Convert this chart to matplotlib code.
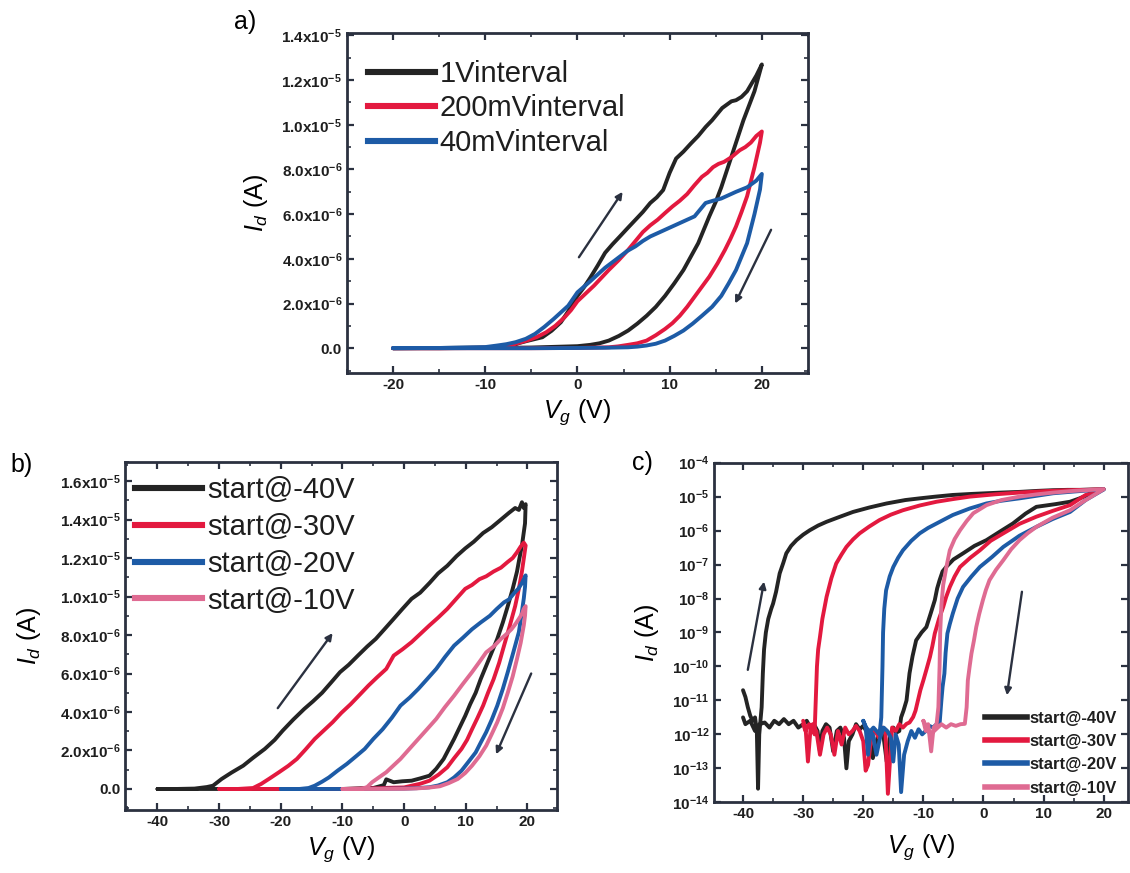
import matplotlib
matplotlib.use("Agg")
import matplotlib.pyplot as plt
from matplotlib.lines import Line2D
from matplotlib.ticker import MultipleLocator, FuncFormatter, FixedLocator, NullLocator
import numpy as np

plt.rcParams['font.family'] = ['Liberation Sans', 'DejaVu Sans']
plt.rcParams['mathtext.fontset'] = 'custom'
plt.rcParams['mathtext.rm'] = 'Liberation Sans'
plt.rcParams['mathtext.it'] = 'Liberation Sans:italic'
plt.rcParams['mathtext.bf'] = 'Liberation Sans:bold'
plt.rcParams['axes.unicode_minus'] = False

# ---------------- data: (Vg [V], Id [uA]) for panels a and b ----------------
a_labels = ['1Vinterval', '200mVinterval', '40mVinterval']

a_1v = [(-20, 0.0), (-15, 0.01), (-10, 0.03), (-8, 0.08), (-6.7, 0.19), (-5.5, 0.32), (-3.8, 0.49),
        (-2.8, 0.78), (-1.8, 1.16), (-1.0, 1.65), (0, 2.34), (0.7, 2.72), (1.4, 3.16), (2.2, 3.7),
        (3.0, 4.27), (3.8, 4.65), (4.6, 5.0), (5.5, 5.4), (6.3, 5.75), (7.1, 6.1), (7.9, 6.5),
        (8.6, 6.75), (9.3, 7.08), (10.0, 7.85), (10.7, 8.49), (11.5, 8.8), (12.3, 9.16), (13.1, 9.5),
        (13.9, 9.9), (14.6, 10.2), (15.2, 10.5), (15.7, 10.75), (16.2, 10.9), (16.7, 11.05),
        (17.2, 11.1), (17.8, 11.25), (18.4, 11.5), (18.9, 11.85), (19.4, 12.2), (20.0, 12.7),
        (19.6, 12.1), (19.2, 11.5), (18.6, 10.85), (18.0, 10.2), (17.4, 9.45), (16.8, 8.7),
        (16.2, 7.95), (15.6, 7.2), (15.0, 6.55), (14.3, 5.9), (13.7, 5.3), (13.1, 4.7), (12.3, 4.1),
        (11.5, 3.5), (10.5, 2.9), (9.5, 2.34), (8.5, 1.85), (7.5, 1.45), (6.5, 1.1), (5.5, 0.79),
        (4.5, 0.55), (3.4, 0.34), (2.4, 0.22), (1.4, 0.15), (0, 0.09), (-5, 0.03), (-10, 0.01),
        (-15, 0.0), (-20, 0.0)]

a_200mv = [(-20, 0.0), (-15, 0.0), (-10, 0.02), (-7.5, 0.1), (-5.5, 0.34), (-4.4, 0.5), (-3.4, 0.71),
           (-2.4, 1.0), (-1.4, 1.38), (-0.7, 1.7), (0, 2.1), (0.9, 2.45), (1.8, 2.8), (2.6, 3.15),
           (3.4, 3.5), (4.5, 3.95), (5.5, 4.4), (6.3, 4.8), (7.1, 5.2), (7.9, 5.5), (8.7, 5.75),
           (9.5, 6.05), (10.3, 6.34), (11.1, 6.6), (11.9, 6.9), (12.7, 7.3), (13.5, 7.67), (14.1, 7.85),
           (14.7, 8.1), (15.3, 8.25), (15.9, 8.34), (16.7, 8.55), (17.6, 8.86), (18.2, 9.0),
           (18.8, 9.2), (19.4, 9.5), (20.0, 9.7),
           (19.8, 9.2), (19.5, 8.65), (19.2, 8.1), (18.8, 7.45), (18.4, 6.8), (17.8, 6.1), (17.2, 5.45),
           (16.6, 4.9), (16.0, 4.4), (15.2, 3.8), (14.3, 3.2), (13.5, 2.75), (12.7, 2.3), (11.9, 1.85),
           (11.1, 1.45), (10.3, 1.12), (9.5, 0.86), (8.5, 0.58), (7.5, 0.34), (6.5, 0.22), (5.5, 0.15),
           (4.4, 0.08), (3.4, 0.04), (0, 0.01), (-5, 0.0), (-10, 0.0), (-15, 0.0), (-20, 0.0)]

a_40mv = [(-20, 0.0), (-15, 0.01), (-10, 0.05), (-8.7, 0.12), (-7.7, 0.18), (-6.7, 0.27), (-5.6, 0.42),
          (-4.6, 0.64), (-3.6, 0.95), (-2.6, 1.3), (-1.8, 1.6), (-1.0, 1.9), (-0.5, 2.2), (0, 2.5),
          (0.7, 2.75), (1.4, 3.0), (2.2, 3.3), (3.0, 3.6), (3.8, 3.85), (4.6, 4.1), (5.4, 4.35),
          (6.3, 4.56), (7.1, 4.8), (7.9, 5.0), (8.7, 5.15), (9.5, 5.3), (10.3, 5.45), (11.1, 5.6),
          (11.9, 5.75), (12.7, 5.9), (13.3, 6.2), (13.9, 6.5), (14.7, 6.6), (15.6, 6.7), (16.4, 6.85),
          (17.2, 7.0), (17.8, 7.1), (18.4, 7.2), (18.9, 7.35), (19.4, 7.5), (20.0, 7.8),
          (19.8, 7.1), (19.5, 6.55), (19.2, 6.0), (18.8, 5.35), (18.4, 4.7), (17.8, 4.1), (17.2, 3.5),
          (16.4, 2.9), (15.6, 2.34), (14.6, 1.85), (13.5, 1.45), (12.5, 1.1), (11.5, 0.79),
          (10.5, 0.55), (9.5, 0.34), (8.5, 0.2), (7.5, 0.12), (6.5, 0.07), (5.5, 0.04), (3, 0.02),
          (0, 0.01), (-5, 0.0), (-10, 0.0), (-15, 0.0), (-20, 0.0)]

start_labels = ['start@-40V', 'start@-30V', 'start@-20V', 'start@-10V']

b_m40 = [(-40, 0.0), (-37, 0.0), (-34, 0.02), (-32, 0.1), (-31, 0.17), (-29.6, 0.52), (-28, 0.85),
         (-26.1, 1.21), (-24.5, 1.62), (-22.6, 2.08), (-21, 2.55), (-19.7, 3.03), (-18, 3.6),
         (-16.2, 4.16), (-14.8, 4.55), (-13.3, 5.0), (-11.8, 5.55), (-10.4, 6.07), (-9, 6.45),
         (-7.5, 6.93), (-6, 7.4), (-4.6, 7.8), (-3.2, 8.3), (-1.7, 8.84), (-0.3, 9.35), (1.2, 9.88),
         (2.6, 10.2), (4.1, 10.7), (5.5, 11.2), (7.0, 11.6), (8.5, 12.1), (9.9, 12.5), (11.3, 12.85),
         (12.8, 13.3), (14.2, 13.6), (15.7, 14.0), (17, 14.35), (18, 14.6), (18.6, 14.5), (19.1, 14.9),
         (19.4, 14.6), (19.7, 14.8),
         (19.6, 13.8), (19.1, 12.65), (18.7, 12.0), (18.3, 11.3), (17.6, 10.4), (16.8, 9.5),
         (16, 8.65), (15.1, 7.8), (14.2, 7.1), (13.3, 6.4), (12.4, 5.7), (11.6, 5.0), (10.7, 4.4),
         (9.9, 3.8), (9.0, 3.2), (8.1, 2.6), (7.2, 2.05), (6.4, 1.56), (5.2, 1.05), (4.1, 0.69),
         (2.6, 0.55), (1.2, 0.43), (-0.3, 0.4), (-1.7, 0.35), (-2.9, 0.5), (-3.3, 0.2), (-5, 0.05),
         (-10, 0.0), (-20, 0.0), (-30, 0.0), (-40, 0.0)]

b_m30 = [(-30, 0.0), (-27, 0.0), (-24.5, 0.05), (-23.2, 0.26), (-21.8, 0.55), (-20.3, 0.87),
         (-18.8, 1.2), (-17.4, 1.56), (-16, 2.05), (-14.5, 2.6), (-13, 3.05), (-11.6, 3.47),
         (-10.2, 3.95), (-8.7, 4.4), (-7.2, 4.9), (-5.8, 5.37), (-4.4, 5.8), (-2.9, 6.24),
         (-1.7, 6.93), (-0.3, 7.25), (1.2, 7.63), (2.6, 8.05), (4.1, 8.5), (5.5, 8.9), (7.0, 9.36),
         (8.5, 9.9), (9.9, 10.4), (11, 10.6), (12.2, 10.9), (13.3, 11.05), (14.5, 11.3), (15.7, 11.5),
         (16.8, 11.8), (17.6, 12.0), (18.3, 12.3), (18.9, 12.6), (19.4, 12.8), (19.7, 12.65),
         (19.5, 12.2), (19.1, 11.3), (18.6, 10.4), (18.0, 9.5), (17.1, 8.45), (16.2, 7.45),
         (15.4, 6.55), (14.5, 5.7), (13.6, 5.0), (12.8, 4.33), (11.9, 3.7), (11.0, 3.1), (10.2, 2.55),
         (9.3, 2.08), (8.1, 1.6), (7.0, 1.13), (5.6, 0.75), (4.1, 0.43), (2.6, 0.27), (1.2, 0.17),
         (0, 0.08), (-10, 0.0), (-20, 0.0), (-30, 0.0)]

b_m20 = [(-20, 0.0), (-17, 0.0), (-15.5, 0.05), (-14.5, 0.17), (-13.3, 0.38), (-12.2, 0.6),
         (-10.8, 0.95), (-9.3, 1.3), (-7.8, 1.7), (-6.4, 2.08), (-5, 2.6), (-3.5, 3.1), (-2, 3.7),
         (-0.6, 4.33), (0.9, 4.75), (2.3, 5.2), (3.7, 5.7), (5.2, 6.24), (6.6, 6.85), (8.1, 7.45),
         (9.5, 7.85), (11, 8.3), (12.4, 8.65), (13.9, 9.0), (15, 9.35), (16.2, 9.7), (17, 9.85),
         (17.9, 10.2), (18.5, 10.4), (19.1, 10.7), (19.7, 11.1),
         (19.6, 10.5), (19.4, 9.9), (19.0, 9.0), (18.6, 8.15), (17.7, 7.1), (16.8, 6.07), (16.0, 5.2),
         (15.1, 4.33), (14.2, 3.6), (13.3, 2.95), (12.4, 2.4), (11.6, 1.9), (10.4, 1.4), (9.3, 0.95),
         (8.1, 0.6), (7.0, 0.35), (5.5, 0.18), (4.1, 0.09), (2, 0.04), (0, 0.02), (-10, 0.0),
         (-20, 0.0)]

b_m10 = [(-10, 0.0), (-7, 0.0), (-6, 0.1), (-5.2, 0.35), (-4.1, 0.6), (-2.9, 0.87), (-1.8, 1.2),
         (-0.6, 1.56), (0.9, 2.1), (2.3, 2.6), (3.7, 3.1), (5.2, 3.64), (6.6, 4.25), (8.1, 4.85),
         (9.5, 5.45), (11, 6.07), (12.2, 6.6), (13.3, 7.1), (14.5, 7.4), (15.7, 7.8), (16.6, 8.05),
         (17.4, 8.3), (18, 8.55), (18.6, 8.84), (19.1, 9.1), (19.4, 9.36), (19.7, 9.5),
         (19.6, 9.0), (19.4, 8.5), (18.9, 7.6), (18.3, 6.76), (17.6, 5.85), (16.8, 5.0), (16.0, 4.2),
         (15.1, 3.47), (14.2, 2.85), (13.3, 2.25), (12.2, 1.7), (11.0, 1.21), (9.9, 0.83), (8.7, 0.52),
         (7.2, 0.3), (5.8, 0.14), (4, 0.07), (2, 0.03), (0, 0.01), (-5, 0.0), (-10, 0.0)]

# ---------------- data: (Vg [V], log10 Id [A]) for panel c ----------------
c_m40 = [(-40, -10.7), (-39.6, -10.9), (-39.2, -11.2), (-38.8, -11.45), (-38.4, -11.6), (-38.0, -11.5),
         (-37.7, -11.9), (-37.5, -13.6), (-37.3, -12.0), (-37.1, -11.6), (-36.9, -11.2), (-36.7, -10.2),
         (-36.5, -9.5), (-36.2, -9.0), (-35.8, -8.6), (-35.3, -8.3), (-35.0, -8.15), (-34.5, -7.8),
         (-33.9, -7.26), (-33.3, -6.95), (-32.8, -6.67), (-32, -6.45), (-31.1, -6.28), (-30, -6.12),
         (-28.9, -5.99), (-27.5, -5.85), (-26.1, -5.74), (-24, -5.6), (-21.7, -5.45), (-19, -5.32),
         (-16.1, -5.2), (-13, -5.1), (-10.6, -5.05), (-8, -5.0), (-5.1, -4.95), (-2, -4.92),
         (0.5, -4.9), (3, -4.88), (6, -4.86), (9, -4.83), (11.6, -4.81), (14, -4.8), (16, -4.8),
         (18, -4.79), (20, -4.78),
         (18, -4.9), (16, -5.05), (14.4, -5.15), (12, -5.22), (10, -5.27), (8.8, -5.3), (7, -5.5),
         (4.9, -5.79), (3, -6.0), (0.5, -6.28), (-1.5, -6.45), (-3.4, -6.67), (-5, -6.85),
         (-6.2, -7.07), (-6.8, -7.2), (-7.3, -7.46), (-7.7, -7.7), (-8.1, -8.05), (-8.8, -8.45),
         (-9.5, -8.84), (-10.3, -9.0), (-11.2, -9.23), (-11.8, -9.7), (-12.3, -10.2), (-12.8, -11.0),
         (-13.3, -11.3), (-13.7, -11.5), (-14.0, -11.9), (-14.5, -11.95), (-15, -11.8), (-15.5, -12.0),
         (-16.1, -12.8), (-16.6, -12.1), (-17, -11.85), (-17.5, -12.0), (-18.4, -12.7), (-19, -12.0),
         (-19.5, -11.9), (-20, -11.75), (-20.6, -11.85), (-21.2, -11.7), (-21.8, -12.0), (-22.4, -12.2),
         (-22.8, -13.0), (-23.2, -12.1), (-23.8, -11.8), (-24.4, -11.9), (-25, -12.5), (-25.6, -11.8),
         (-26.2, -11.7), (-26.8, -11.9), (-27.2, -12.5), (-27.6, -11.9), (-28.2, -11.7), (-28.8, -11.8),
         (-29.4, -11.6), (-30, -11.7), (-30.8, -11.8), (-31.6, -11.6), (-32.4, -11.7), (-33.2, -11.55),
         (-34, -11.7), (-34.8, -11.6), (-35.6, -11.8), (-36.4, -11.65), (-37.2, -11.7), (-38, -11.9),
         (-38.8, -11.6), (-39.6, -11.7), (-40, -11.5)]

c_m30 = [(-30, -11.6), (-29.6, -11.8), (-29.2, -12.8), (-28.8, -11.9), (-28.4, -11.7), (-28.1, -12.0),
         (-27.9, -11.0), (-27.7, -10.0), (-27.5, -9.5), (-27.2, -9.13), (-26.8, -8.6), (-26.1, -7.95),
         (-25.3, -7.4), (-24.5, -6.97), (-23.6, -6.7), (-22.8, -6.48), (-21.7, -6.26), (-20.6, -6.08),
         (-19, -5.88), (-17.3, -5.69), (-15.4, -5.53), (-13.4, -5.4), (-10.6, -5.26), (-7.8, -5.15),
         (-5, -5.07), (-2.3, -5.0), (2, -4.93), (6, -4.88), (10, -4.84), (14, -4.81), (17, -4.8),
         (20, -4.78),
         (17, -4.95), (14.4, -5.25), (11.5, -5.42), (8.8, -5.59), (6, -5.8), (3.3, -6.08), (1.2, -6.3),
         (-0.6, -6.58), (-2.2, -6.8), (-3.9, -7.07), (-4.8, -7.35), (-5.6, -7.66), (-6.2, -7.95),
         (-6.7, -8.25), (-7.4, -8.6), (-8.1, -9.03), (-8.5, -9.4), (-8.9, -9.72), (-9.5, -10.1),
         (-10.0, -10.41), (-10.5, -10.7), (-10.9, -11.0), (-11.3, -11.3), (-11.7, -11.49),
         (-12.3, -11.65), (-12.8, -11.69), (-13.4, -11.8), (-14, -11.7), (-14.6, -11.9), (-15.2, -11.8),
         (-15.9, -13.75), (-16.3, -12.0), (-16.8, -11.8), (-17.4, -12.1), (-18, -11.9), (-18.6, -12.0),
         (-19.2, -12.9), (-19.6, -13.07), (-20, -12.2), (-20.6, -11.9), (-21.2, -11.75), (-21.8, -11.9),
         (-22.4, -12.0), (-23, -11.8), (-23.6, -12.3), (-24.2, -11.9), (-24.8, -12.6), (-25.4, -12.0),
         (-26, -11.8), (-26.6, -12.0), (-27.2, -12.6), (-27.8, -11.9), (-28.4, -11.8), (-29, -11.7),
         (-29.6, -11.9), (-30, -11.7)]

c_m20 = [(-20, -11.6), (-19.6, -11.8), (-19.2, -12.6), (-18.8, -11.9), (-18.3, -11.8), (-17.8, -11.9),
         (-17.3, -12.0), (-17.0, -11.5), (-16.8, -10.0), (-16.7, -9.0), (-16.5, -8.3), (-16.2, -7.76),
         (-15.6, -7.35), (-15.0, -7.07), (-14.2, -6.8), (-13.4, -6.58), (-12, -6.3), (-10.6, -6.08),
         (-9.2, -5.92), (-7.8, -5.79), (-6.4, -5.66), (-5.1, -5.54), (-2.3, -5.35), (0.5, -5.2),
         (3, -5.12), (6, -5.05), (9, -4.97), (11.6, -4.9), (15, -4.85), (18, -4.81), (20, -4.79),
         (17, -5.1), (14.4, -5.45), (11.5, -5.66), (8.8, -5.89), (6, -6.15), (3.3, -6.48), (1.4, -6.78),
         (-0.6, -7.07), (-2, -7.35), (-3.4, -7.66), (-4.3, -8.0), (-5.1, -8.44), (-5.6, -8.75),
         (-6.0, -9.03), (-6.3, -9.6), (-6.5, -10.21), (-6.8, -10.6), (-7.0, -11.0), (-7.3, -11.69),
         (-7.8, -11.7), (-8.4, -11.8), (-9, -11.75), (-9.6, -11.9), (-10.2, -12.0), (-10.8, -11.85),
         (-11.4, -12.1), (-12, -11.9), (-12.6, -12.2), (-13.2, -12.6), (-13.7, -13.7), (-14.1, -12.3),
         (-14.6, -12.0), (-15, -12.8), (-15.4, -12.1), (-16, -11.9), (-16.6, -11.8), (-17.2, -12.1),
         (-17.8, -12.6), (-18.4, -12.0), (-19, -11.9), (-19.5, -11.8), (-20, -11.6)]

c_m10 = [(-10, -11.6), (-9.6, -11.9), (-9.2, -11.7), (-8.7, -12.5), (-8.3, -11.8), (-7.8, -11.7),
         (-7.5, -11.2), (-7.3, -10.0), (-7.2, -9.0), (-7.0, -8.2), (-6.7, -7.6), (-6.2, -7.1),
         (-5.6, -6.58), (-4.8, -6.25), (-3.9, -5.99), (-2.8, -5.72), (-1.7, -5.49), (0.5, -5.25),
         (3, -5.1), (6, -5.0), (9, -4.93), (11.6, -4.88), (15, -4.83), (18, -4.8), (20, -4.78),
         (17, -5.1), (14.4, -5.4), (11.5, -5.62), (8.8, -5.89), (7.4, -6.07), (6.0, -6.28),
         (4.6, -6.55), (3.3, -6.87), (2.1, -7.15), (1.0, -7.46), (0.4, -7.75), (-0.1, -8.05),
         (-0.7, -8.45), (-1.2, -8.84), (-1.6, -9.25), (-2.0, -9.62), (-2.3, -10.0), (-2.6, -10.41),
         (-2.8, -11.2), (-3.1, -11.69), (-3.8, -11.7), (-4.6, -11.75), (-5.4, -11.7), (-6.2, -11.8),
         (-7.0, -11.7), (-7.6, -11.8), (-8.2, -11.9), (-8.8, -12.0), (-9.4, -11.8), (-10, -11.6)]

# ---------------- styling ----------------
INK = '#2b3140'
BLACK = '#242424'
RED = '#e3193f'
BLUE = '#1d5ba6'
PINK = '#df6b92'

fig = plt.figure(figsize=(11.3, 8.73), dpi=100)
ax_a = fig.add_axes([0.307, 0.573, 0.408, 0.389])
ax_b = fig.add_axes([0.111, 0.072, 0.382, 0.399])
ax_c = fig.add_axes([0.632, 0.081, 0.366, 0.389])


def sci_label(v, pos):
    if abs(v) < 1e-12:
        return '0.0'
    e = int(np.floor(np.log10(abs(v)) + 1e-9))
    m = v / 10 ** e
    return r'%.1fx10$^{\mathbf{%d}}$' % (m, e)


def log_label(v, pos):
    e = int(round(np.log10(v)))
    return r'10$^{\mathbf{%d}}$' % e


def style(ax):
    for s in ax.spines.values():
        s.set_linewidth(2.0)
        s.set_color(INK)
    ax.tick_params(which='both', direction='in', top=True, right=True, colors=INK,
                   labelcolor='#1e1e1e')
    ax.tick_params(which='major', length=5, width=1.6, labelsize=11)
    ax.tick_params(which='minor', length=3, width=1.2)
    ax.xaxis.set_major_locator(MultipleLocator(10))
    ax.xaxis.set_minor_locator(MultipleLocator(5))


def plot_sweep(ax, pts, color, scale=1.0, log=False, lw=2.8):
    v = np.array([p[0] for p in pts])
    i = np.array([p[1] for p in pts])
    y = 10.0 ** i if log else i * scale
    ax.plot(v, y, color=color, lw=lw, solid_joinstyle='round', solid_capstyle='round')


def arrow(ax, start, end):
    ax.annotate('', xy=end, xytext=start,
                arrowprops=dict(arrowstyle='-|>', color=INK, lw=1.7,
                                mutation_scale=10, shrinkA=0, shrinkB=0))


def legend(ax, labels, colors, anchor, size, lw, handlelength, spacing, weight='normal'):
    handles = [Line2D([0], [0], color=c, lw=lw) for c in colors]
    leg = ax.legend(handles, labels, loc='upper left', bbox_to_anchor=anchor, frameon=False,
                    borderaxespad=0, borderpad=0, handlelength=handlelength,
                    handletextpad=0.15, labelspacing=spacing,
                    prop={'size': size, 'weight': weight})
    for t in leg.get_texts():
        t.set_color('#1e1e1e')


# ---- panel a ----
uA = 1e-6
for pts, col in zip([a_1v, a_200mv, a_40mv], [BLACK, RED, BLUE]):
    plot_sweep(ax_a, pts, col, scale=uA)
style(ax_a)
ax_a.set_xlim(-25, 25)
ax_a.set_ylim(-1.1e-6, 1.41e-5)
ax_a.yaxis.set_major_locator(MultipleLocator(2e-6))
ax_a.yaxis.set_minor_locator(MultipleLocator(1e-6))
ax_a.yaxis.set_major_formatter(FuncFormatter(sci_label))
ax_a.set_xlabel(r'$V_g$ (V)', fontsize=18, labelpad=4)
ax_a.set_ylabel(r'$I_d$ (A)', fontsize=18, labelpad=8)
arrow(ax_a, (0.16, 4.07e-6), (4.9, 7.0e-6))
arrow(ax_a, (21.0, 5.3e-6), (17.1, 2.0e-6))
legend(ax_a, a_labels, [BLACK, RED, BLUE], (0.046, 0.921), 21, 4.4, 2.3, 0.22)

# ---- panel b ----
for pts, col in zip([b_m40, b_m30, b_m20, b_m10], [BLACK, RED, BLUE, PINK]):
    plot_sweep(ax_b, pts, col, scale=uA)
style(ax_b)
ax_b.set_xlim(-45.2, 24.8)
ax_b.set_ylim(-1.1e-6, 1.7e-5)
ax_b.yaxis.set_major_locator(MultipleLocator(2e-6))
ax_b.yaxis.set_minor_locator(MultipleLocator(1e-6))
ax_b.yaxis.set_major_formatter(FuncFormatter(sci_label))
ax_b.set_xlabel(r'$V_g$ (V)', fontsize=18, labelpad=4)
ax_b.set_ylabel(r'$I_d$ (A)', fontsize=18, labelpad=12)
arrow(ax_b, (-20.5, 4.2e-6), (-11.6, 8.1e-6))
arrow(ax_b, (20.6, 6.0e-6), (14.9, 1.8e-6))
legend(ax_b, start_labels, [BLACK, RED, BLUE, PINK], (0.023, 0.958), 21, 4.4, 2.3, 0.3)

# ---- panel c ----
for pts, col in zip([c_m40, c_m30, c_m20, c_m10], [BLACK, RED, BLUE, PINK]):
    plot_sweep(ax_c, pts, col, log=True)
style(ax_c)
ax_c.set_yscale('log')
ax_c.set_xlim(-44.8, 24.0)
ax_c.set_ylim(1e-14, 1e-4)
ax_c.yaxis.set_major_locator(FixedLocator([10.0 ** k for k in range(-14, -3)]))
ax_c.yaxis.set_minor_locator(NullLocator())
ax_c.yaxis.set_major_formatter(FuncFormatter(log_label))
ax_c.set_xlabel(r'$V_g$ (V)', fontsize=18, labelpad=8)
ax_c.set_ylabel(r'$I_d$ (A)', fontsize=18, labelpad=8)
arrow(ax_c, (-39.2, 10 ** -10.1), (-36.5, 10 ** -7.5))
arrow(ax_c, (6.4, 10 ** -7.8), (3.9, 10 ** -10.85))
legend(ax_c, start_labels, [BLACK, RED, BLUE, PINK], (0.656, 0.27), 12, 4.0, 2.5, 0.5,
       weight='bold')

for ax in (ax_a, ax_b, ax_c):
    for lab in ax.get_xticklabels() + ax.get_yticklabels():
        lab.set_fontweight('bold')

fig.text(245 / 1130, 1 - 22 / 873, 'a)', fontsize=18, va='center', ha='center')
fig.text(22 / 1130, 1 - 465 / 873, 'b)', fontsize=18, va='center', ha='center')
fig.text(642 / 1130, 1 - 463 / 873, 'c)', fontsize=18, va='center', ha='center')

fig.savefig('out.png', dpi=100)
